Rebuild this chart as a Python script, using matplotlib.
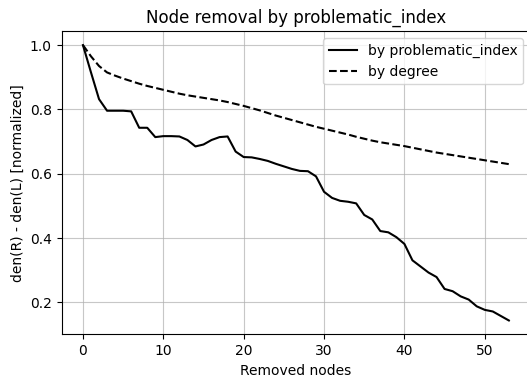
import matplotlib
matplotlib.use("Agg")
import matplotlib.pyplot as plt

# removed-node counts
removed = list(range(54))

# den(R) - den(L), normalized, removing by problematic_index
by_problematic = [1.0, 0.915, 0.832, 0.796, 0.796, 0.796, 0.794, 0.743, 0.743, 0.714,
                  0.717, 0.717, 0.716, 0.705, 0.685, 0.691, 0.705, 0.714, 0.716, 0.669,
                  0.652, 0.651, 0.646, 0.640, 0.631, 0.623, 0.615, 0.609, 0.608, 0.592,
                  0.544, 0.525, 0.516, 0.513, 0.508, 0.472, 0.458, 0.422, 0.418, 0.403,
                  0.382, 0.331, 0.312, 0.293, 0.279, 0.242, 0.235, 0.219, 0.209, 0.188,
                  0.177, 0.172, 0.158, 0.144]

# same measure, removing by degree
by_degree = [1.0, 0.965, 0.935, 0.915, 0.905, 0.896, 0.888, 0.880, 0.873, 0.867,
             0.861, 0.855, 0.849, 0.844, 0.840, 0.836, 0.832, 0.828, 0.823, 0.817,
             0.811, 0.804, 0.797, 0.789, 0.781, 0.774, 0.767, 0.760, 0.753, 0.746,
             0.740, 0.734, 0.728, 0.722, 0.715, 0.709, 0.703, 0.698, 0.694, 0.690,
             0.686, 0.681, 0.676, 0.671, 0.666, 0.662, 0.658, 0.654, 0.650, 0.646,
             0.642, 0.638, 0.634, 0.630]

fig = plt.figure(figsize=(5.27, 3.82), dpi=100)
ax = fig.add_axes([0.117, 0.125, 0.889, 0.793])

ax.plot(removed, by_problematic, color="k", linestyle="-", linewidth=1.5, label="by problematic_index")
ax.plot(removed, by_degree, color="k", linestyle="--", linewidth=1.5, label="by degree")

ax.set_title("Node removal by problematic_index")
ax.set_xlabel("Removed nodes")
ax.set_ylabel("den(R) - den(L) [normalized]")
ax.set_yticks([0.2, 0.4, 0.6, 0.8, 1.0])
ax.grid(True, color="#b0b0b0", alpha=0.7)
ax.legend(loc="upper right")

fig.savefig("out.png", dpi=100)
